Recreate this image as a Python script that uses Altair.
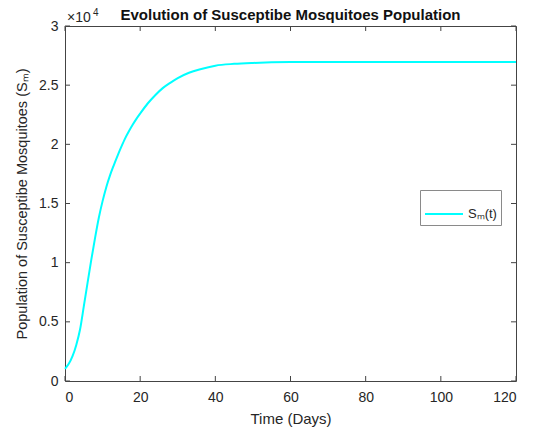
import altair as alt
import pandas as pd

# ---- data ----
days = [0, 1, 2, 3, 4, 5, 6, 7, 8, 9, 10, 11, 12, 13, 14, 15, 16, 17, 18, 19, 20,
        22, 24, 26, 28, 30, 33, 36, 40, 45, 50, 60, 70, 80, 100, 120]
susceptible = [1030, 1450, 2100, 3050, 4350, 6300, 8300, 10250, 12100, 13800, 15200,
               16400, 17400, 18250, 19050, 19800, 20500, 21100, 21650, 22150, 22600,
               23450, 24150, 24750, 25200, 25600, 26050, 26350, 26650, 26800, 26880,
               26950, 26960, 26960, 26960, 26960]
series_name = "Sₘ(t)"
x_ticks = [0, 20, 40, 60, 80, 100, 120]
y_ticks = [0, 5000, 10000, 15000, 20000, 25000, 30000]
chart_title = "Evolution of Susceptibe Mosquitoes Population"
exponent_base = "×10"
exponent_power = "4"

df = pd.DataFrame({"t": days, "S": susceptible, "series": [series_name] * len(days)})
xt = pd.DataFrame({"t": x_ticks})
yt = pd.DataFrame({"S": y_ticks})

W, H = 451, 355
FONT = "Liberation Sans"
TXT = "#262626"
AXC = "#444444"
TICK = 5

xs = alt.Scale(domain=[0, 120], nice=False, zero=False)
ys = alt.Scale(domain=[0, 30000], nice=False)

main = alt.Chart(df).mark_line(strokeWidth=2, interpolate="monotone").encode(
    x=alt.X("t:Q", scale=xs,
            axis=alt.Axis(orient="bottom", values=x_ticks, ticks=False, domain=False,
                          grid=False, title="Time (Days)", labelPadding=9, titlePadding=7,
                          labelFontSize=14, titleFontSize=15, labelColor=TXT, titleColor=TXT,
                          labelFont=FONT, titleFont=FONT, titleFontWeight="normal")),
    y=alt.Y("S:Q", scale=ys,
            axis=alt.Axis(orient="left", values=y_ticks, ticks=False, domain=False, grid=False,
                          labelExpr="datum.value / 10000",
                          title="Population of Susceptibe Mosquitoes (Sₘ)", labelPadding=7,
                          titlePadding=9, labelFontSize=14, titleFontSize=14.5,
                          labelColor=TXT, titleColor=TXT, labelFont=FONT, titleFont=FONT,
                          titleFontWeight="normal")),
    color=alt.Color("series:N",
                    scale=alt.Scale(domain=[series_name], range=["#00FFFF"]),
                    legend=alt.Legend(orient="none", legendX=355, legendY=164, title=None,
                                      fillColor="white", strokeColor="#8a8a8a", padding=4,
                                      symbolType="stroke", symbolSize=1444, symbolStrokeWidth=2,
                                      labelFontSize=13, labelFont=FONT, labelColor=TXT,
                                      labelOffset=4)),
)

# inward ticks (MATLAB style) on all four sides, positioned through the shared scales
xtick_base = alt.Chart(xt).mark_rule(color=AXC, strokeWidth=1)
ticks_bottom = xtick_base.encode(x=alt.X("t:Q", scale=xs),
                                 y=alt.value(H), y2=alt.value(H - TICK))
ticks_top = xtick_base.encode(x=alt.X("t:Q", scale=xs),
                              y=alt.value(0), y2=alt.value(TICK))
ytick_base = alt.Chart(yt).mark_rule(color=AXC, strokeWidth=1)
ticks_left = ytick_base.encode(y=alt.Y("S:Q", scale=ys),
                               x=alt.value(0), x2=alt.value(TICK))
ticks_right = ytick_base.encode(y=alt.Y("S:Q", scale=ys),
                                x=alt.value(W), x2=alt.value(W - TICK))

exp_base = alt.Chart(pd.DataFrame({"lab": [exponent_base]})).mark_text(
    align="left", baseline="alphabetic", font=FONT, fontSize=14, color=TXT
).encode(x=alt.value(2), y=alt.value(-4), text="lab:N")
exp_pow = alt.Chart(pd.DataFrame({"lab": [exponent_power]})).mark_text(
    align="left", baseline="alphabetic", font=FONT, fontSize=10, color=TXT
).encode(x=alt.value(28), y=alt.value(-10), text="lab:N")

title_text = alt.Chart(pd.DataFrame({"lab": [chart_title]})).mark_text(
    align="center", baseline="alphabetic", font=FONT, fontSize=15, fontWeight="bold",
    color="#111111"
).encode(x=alt.value(W / 2), y=alt.value(-6), text="lab:N")

chart = alt.layer(main, ticks_bottom, ticks_top, ticks_left, ticks_right,
                  exp_base, exp_pow, title_text).properties(
    width=W, height=H,
    autosize=alt.AutoSizeParams(type="none"),
    padding={"left": 65, "top": 26, "right": 17, "bottom": 52},
    background="white",
).configure_view(stroke=AXC, strokeWidth=1)

chart.save("out.html", embed_options={"renderer": "svg", "actions": False})
